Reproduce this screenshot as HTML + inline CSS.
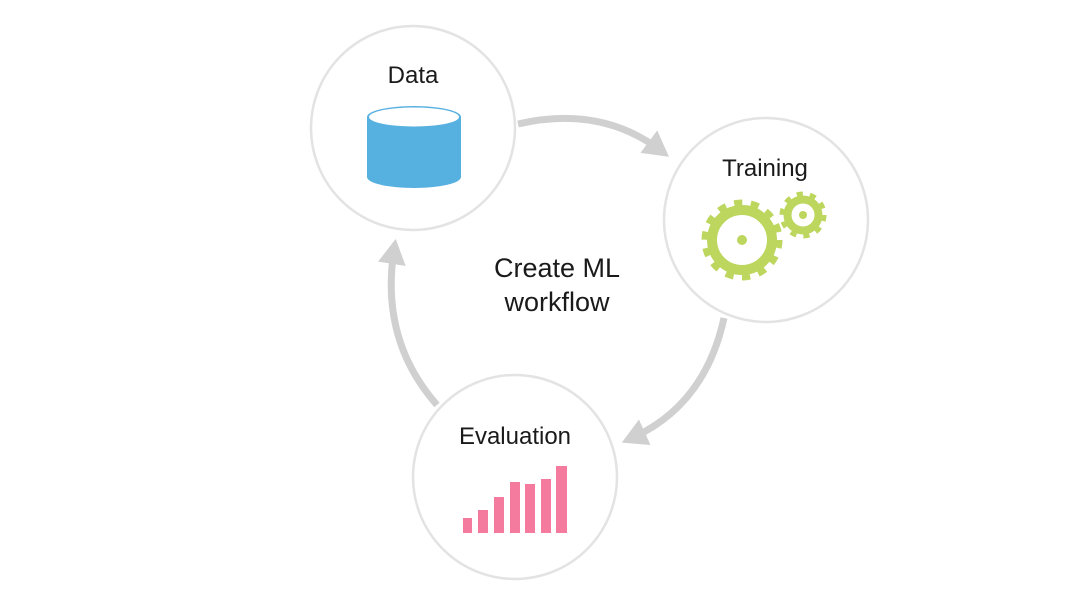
<!DOCTYPE html>
<html><head><meta charset="utf-8"><style>
html,body{margin:0;padding:0;background:#fff;}
svg{display:block}
text{font-family:"Liberation Sans",sans-serif;fill:#1a1a1a}
</style></head><body>
<svg width="1080" height="615" viewBox="0 0 1080 615">
<defs>
<marker id="ah" markerWidth="4" markerHeight="4" refX="2" refY="2" orient="auto" markerUnits="strokeWidth">
<path d="M0,0 L3.6,2 L0,4 Z" fill="#d0d0d0"/>
</marker>
</defs>
<g fill="#fff" stroke="#e3e3e3" stroke-width="2.5">
<circle cx="413" cy="128" r="102"/>
<circle cx="766" cy="220" r="102"/>
<circle cx="515" cy="477" r="102"/>
</g>
<g fill="none" stroke="#d0d0d0" stroke-width="7">
<path d="M518,124 Q600,105 660,150" marker-end="url(#ah)"/>
<path d="M724,318 Q705,405 632,438" marker-end="url(#ah)"/>
<path d="M437,405 Q380,340 394,250" marker-end="url(#ah)"/>
</g>
<!-- cylinder -->
<path d="M367,117 L367,177 A47,11 0 0 0 461,177 L461,117 Z" fill="#56b0e0"/>
<ellipse cx="414" cy="117" rx="47" ry="11" fill="#56b0e0"/>
<ellipse cx="414" cy="117" rx="45" ry="9.5" fill="#fff"/>
<!-- gears -->
<g fill="none" stroke="#bcd65e">
<circle cx="742" cy="240" r="30" stroke-width="10"/>
<circle cx="742" cy="240" r="36.5" stroke-width="8" stroke-dasharray="8 8.4"/>
<circle cx="803" cy="215" r="15.5" stroke-width="8"/>
<circle cx="803" cy="215" r="20.5" stroke-width="6" stroke-dasharray="6 6.9"/>
</g>
<circle cx="742" cy="240" r="5" fill="#bcd65e"/>
<circle cx="803" cy="215" r="4" fill="#bcd65e"/>
<!-- bars -->
<g fill="#f47a9e">
<rect x="463" y="518" width="9" height="15"/>
<rect x="478" y="510" width="10" height="23"/>
<rect x="494" y="497" width="10" height="36"/>
<rect x="510" y="482" width="10" height="51"/>
<rect x="525" y="484" width="10" height="49"/>
<rect x="541" y="479" width="10" height="54"/>
<rect x="556" y="466" width="11" height="67"/>
</g>
<g text-anchor="middle" font-size="24">
<text x="413" y="83">Data</text>
<text x="765" y="176">Training</text>
<text x="515" y="444">Evaluation</text>
<text x="557" y="277" font-size="27">Create ML</text>
<text x="557" y="311" font-size="27">workflow</text>
</g>
</svg>
</body></html>
